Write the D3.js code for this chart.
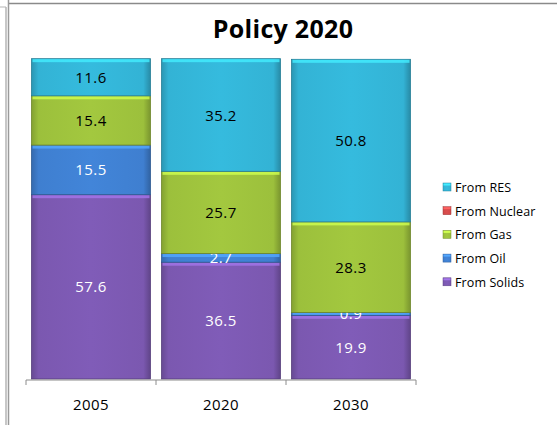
<!DOCTYPE html>
<html lang="en">
<head>
    <meta charset="UTF-8">
    <script src="https://d3js.org/d3.v7.min.js"></script>
    <style>
        body { margin: 0; background: #fff; }
        svg text { font-family: "Open Sans", "DejaVu Sans", sans-serif; }
    </style>
</head>
<body>
    <div id="chart"></div>
    <script>
        // data
        const years = ["2005", "2020", "2030"];
        const series = ["From Solids", "From Oil", "From Gas", "From Nuclear", "From RES"];
        const solids = [57.6, 36.5, 19.9];
        const oil = [15.5, 2.7, 0.9];
        const gas = [15.4, 25.7, 28.3];
        const nuclear = [0, 0, 0];
        const res = [11.6, 35.2, 50.8];
        const colors = ["#7b58b0", "#3f7fd0", "#9cc03c", "#d24a4a", "#33b3d5"];
        const labelColors = ["#fff", "#fff", "#000", "#000", "#000"];

        const W = 557, H = 425;
        const margin = { top: 59, bottom: 46, left: 26, right: 141 };

        const rows = years.map((y, i) => ({
            year: y,
            "From Solids": solids[i],
            "From Oil": oil[i],
            "From Gas": gas[i],
            "From Nuclear": nuclear[i],
            "From RES": res[i]
        }));
        const stack = d3.stack().keys(series)(rows);

        const svg = d3.select("#chart").append("svg")
            .attr("width", W).attr("height", H);

        // outer frame lines (as in the screenshot)
        svg.append("line").attr("x1", 8.5).attr("x2", W).attr("y1", 3.5).attr("y2", 3.5)
            .attr("stroke", "#8a8a8a").attr("stroke-width", 1.5);
        svg.append("line").attr("x1", 8.5).attr("x2", 8.5).attr("y1", 0).attr("y2", H)
            .attr("stroke", "#9a9a9a").attr("stroke-width", 1.5);
        svg.append("line").attr("x1", 6).attr("x2", 6).attr("y1", 7).attr("y2", H)
            .attr("stroke", "#b5b5b5").attr("stroke-width", 1.5);
        svg.append("line").attr("x1", 0).attr("x2", 6).attr("y1", 7).attr("y2", 7)
            .attr("stroke", "#b5b5b5").attr("stroke-width", 1);

        const x = d3.scaleBand().domain(years)
            .range([margin.left, W - margin.right])
            .paddingInner(0.085).paddingOuter(0.0425);
        const y = d3.scaleLinear().domain([0, 100])
            .range([H - margin.bottom, margin.top]);

        // gradients for the bevelled look
        const defs = svg.append("defs");
        colors.forEach((c, i) => {
            const g = defs.append("linearGradient").attr("id", "grad" + i)
                .attr("x1", 0).attr("x2", 1).attr("y1", 0).attr("y2", 0);
            const base = d3.color(c);
            g.append("stop").attr("offset", "0%").attr("stop-color", base.darker(0.5));
            g.append("stop").attr("offset", "6%").attr("stop-color", base);
            g.append("stop").attr("offset", "50%").attr("stop-color", base.brighter(0.12));
            g.append("stop").attr("offset", "94%").attr("stop-color", base);
            g.append("stop").attr("offset", "100%").attr("stop-color", base.darker(0.7));
        });

        // title
        svg.append("text")
            .attr("x", 283).attr("y", 38)
            .attr("text-anchor", "middle")
            .style("font-size", "25px").style("font-weight", "bold")
            .style("letter-spacing", "0.3px")
            .text("Policy 2020");

        // bars
        const layers = svg.selectAll("g.layer").data(stack).join("g").attr("class", "layer");
        layers.each(function (layer, si) {
            const g = d3.select(this);
            const segs = layer.filter(d => d[1] - d[0] > 0);
            g.selectAll("rect.seg").data(segs).join("rect")
                .attr("class", "seg")
                .attr("x", d => x(d.data.year))
                .attr("width", x.bandwidth())
                .attr("y", d => y(d[1]))
                .attr("height", d => y(d[0]) - y(d[1]))
                .attr("fill", "url(#grad" + si + ")")
                .attr("stroke", d3.color(colors[si]).darker(1))
                .attr("stroke-width", 0.8);
            // light strip on top of each segment
            g.selectAll("rect.hi").data(segs).join("rect")
                .attr("class", "hi")
                .attr("x", d => x(d.data.year) + 1)
                .attr("width", x.bandwidth() - 2)
                .attr("y", d => y(d[1]) + 0.5)
                .attr("height", d => Math.min(3, y(d[0]) - y(d[1]) - 1))
                .attr("fill", d3.color(colors[si]).brighter(0.8))
                .attr("opacity", 0.8);
            g.selectAll("text").data(segs).join("text")
                .attr("x", d => x(d.data.year) + x.bandwidth() / 2)
                .attr("y", d => (y(d[0]) + y(d[1])) / 2 + 5.5)
                .attr("text-anchor", "middle")
                .attr("fill", labelColors[si])
                .style("font-size", "15px")
                .style("letter-spacing", "0.4px")
                .text(d => (d[1] - d[0]).toFixed(1));
        });

        // x axis
        const axis = svg.append("g")
            .attr("transform", "translate(0," + (H - margin.bottom + 1) + ")");
        axis.append("line")
            .attr("x1", margin.left).attr("x2", W - margin.right)
            .attr("stroke", "#8c8c8c");
        const edges = years.map(d => x(d) - x.step() * 0.0425).concat([W - margin.right]);
        axis.selectAll("line.tick").data(edges).join("line")
            .attr("class", "tick")
            .attr("x1", d => d).attr("x2", d => d)
            .attr("y1", 0).attr("y2", 5)
            .attr("stroke", "#8c8c8c");
        axis.selectAll("text").data(years).join("text")
            .attr("x", d => x(d) + x.bandwidth() / 2)
            .attr("y", 30)
            .attr("text-anchor", "middle")
            .style("font-size", "15px")
            .style("letter-spacing", "0.4px")
            .text(d => d);

        // legend
        const legend = svg.append("g").attr("transform", "translate(443,188)");
        const legendItems = series.slice().reverse();
        legendItems.forEach((s, i) => {
            const ci = series.indexOf(s);
            const row = legend.append("g").attr("transform", "translate(0," + (i * 23.7) + ")");
            row.append("rect")
                .attr("x", 0).attr("y", -5).attr("width", 8).attr("height", 8)
                .attr("fill", "url(#grad" + ci + ")")
                .attr("stroke", d3.color(colors[ci]).darker(0.8)).attr("stroke-width", 0.5);
            row.append("rect")
                .attr("x", 0.5).attr("y", -4.5).attr("width", 7).attr("height", 2)
                .attr("fill", d3.color(colors[ci]).brighter(0.8));
            row.append("text")
                .attr("x", 12).attr("y", 4)
                .style("font-size", "12.5px")
                .style("letter-spacing", "0.1px")
                .text(s);
        });
    </script>
</body>
</html>
